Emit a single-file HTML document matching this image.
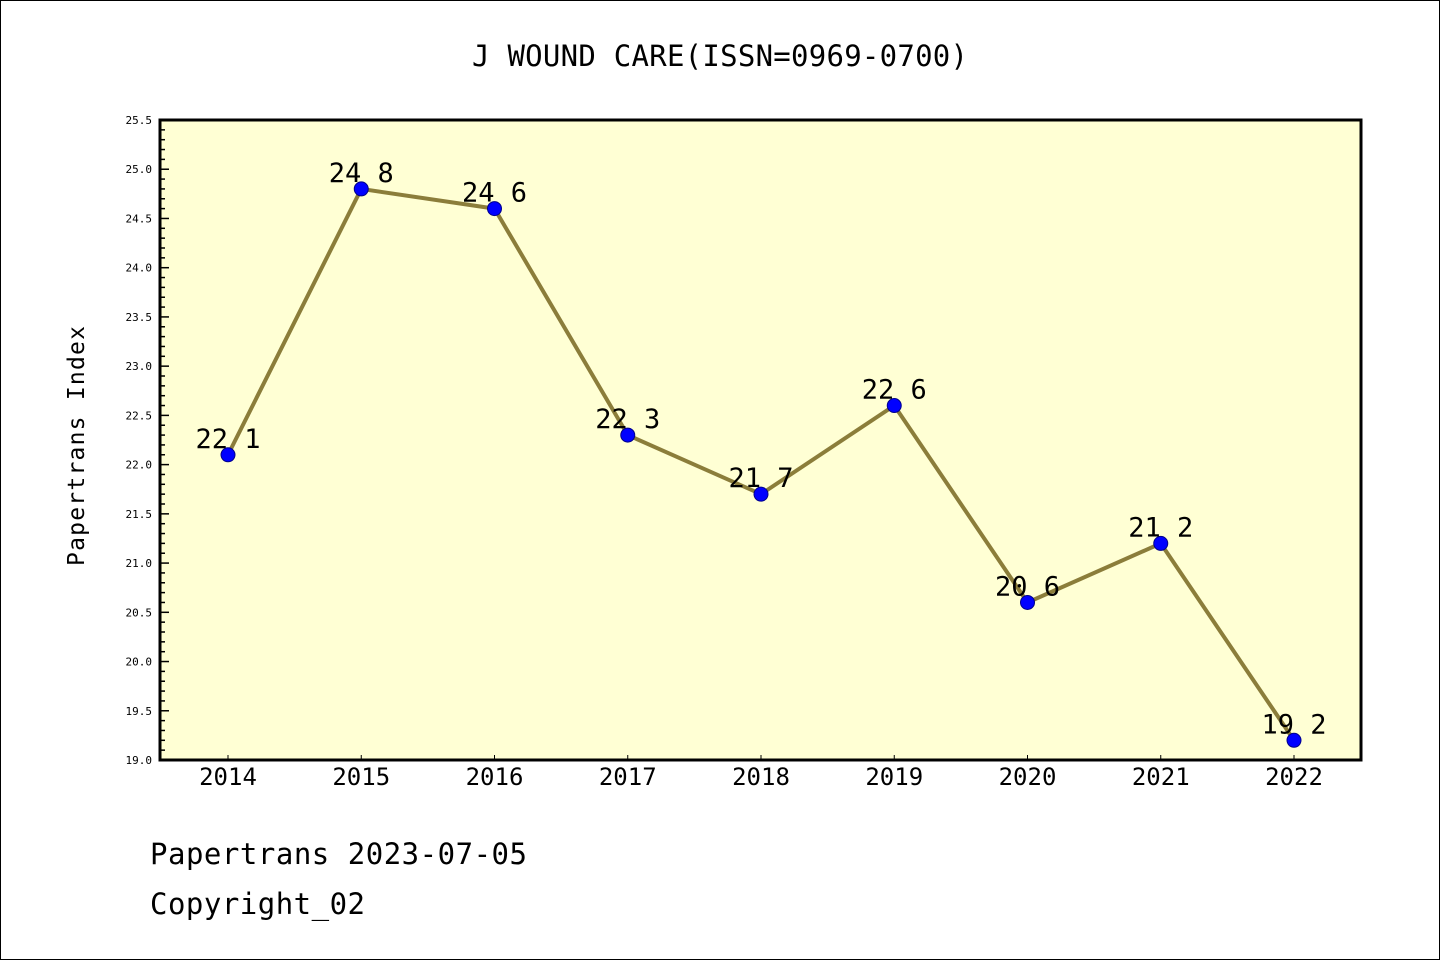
<!DOCTYPE html>
<html><head><meta charset="utf-8"><style>
body{margin:0;background:#fff}
svg{display:block}
text{font-family:"DejaVu Sans Mono","Liberation Mono",monospace}
</style></head><body>
<svg id="chart" width="1440" height="960" xmlns="http://www.w3.org/2000/svg">
<rect x="0.5" y="0.5" width="1439" height="959" fill="#fff" stroke="#000"/>
<text x="720" y="66" text-anchor="middle" font-size="29" textLength="496">J WOUND CARE(ISSN=0969-0700)</text>
<rect x="160" y="120" width="1201" height="640" fill="#ffffd4"/>
<g id="yaxis"></g>
<g id="xaxis"></g>
<g id="series"></g>
<rect x="160" y="120" width="1201" height="640" fill="none" stroke="#000" stroke-width="3"/>
<text transform="translate(84,446) rotate(-90)" text-anchor="middle" font-size="23" textLength="240">Papertrans Index</text>
<text x="150" y="864" font-size="29" textLength="377">Papertrans 2023-07-05</text>
<text x="150" y="914" font-size="29" textLength="215">Copyright_02</text>
</svg>
<script>
const years=[2014,2015,2016,2017,2018,2019,2020,2021,2022];
const values=[22.1,24.8,24.6,22.3,21.7,22.6,20.6,21.2,19.2];
const yTicks=["19.0","19.5","20.0","20.5","21.0","21.5","22.0","22.5","23.0","23.5","24.0","24.5","25.0","25.5"];
const NS="http://www.w3.org/2000/svg";
const yMin=19.0,yMax=25.5,plotTop=120,plotBot=760,plotLeft=160;
const ys=v=>plotBot-(v-yMin)/(yMax-yMin)*(plotBot-plotTop);
const xs=i=>228+i*133.25;
function mk(tag,attrs,parent,txt){const e=document.createElementNS(NS,tag);for(const k in attrs)e.setAttribute(k,attrs[k]);if(txt!==undefined)e.textContent=txt;parent.appendChild(e);return e;}
const ya=document.getElementById('yaxis'),xa=document.getElementById('xaxis'),se=document.getElementById('series');
for(let k=0;k<=65;k++){const v=yMin+k*0.1;const y=ys(v);const major=k%5===0;
const t=mk('line',{x1:plotLeft,x2:plotLeft+(major?9:5),y1:y,y2:y,stroke:'#000','stroke-width':1.5},ya);

}
yTicks.forEach(s=>{const t=mk('text',{x:152,y:ys(parseFloat(s))+4,'text-anchor':'end','font-size':11,'font-family':'DejaVu Sans, sans-serif'},ya,s);

});
years.forEach((yr,i)=>{const x=xs(i);
const t=mk('line',{x1:x,x2:x,y1:plotBot,y2:plotBot-5,stroke:'#000','stroke-width':1},xa);


const l=mk('text',{x:x,y:785,'text-anchor':'middle','font-size':24,'font-family':'DejaVu Sans, sans-serif'},xa,yr);

});
const pts=values.map((v,i)=>xs(i)+','+ys(v)).join(' ');
const pl=mk('polyline',{points:pts,fill:'none',stroke:'#8b7d3a','stroke-width':4},se);


values.forEach((v,i)=>{const c=mk('circle',{cx:xs(i),cy:ys(v),r:7,fill:'#0000ff',stroke:'#00008b','stroke-width':1},se);


const t=mk('text',{x:xs(i),y:ys(v)-7,'text-anchor':'middle','font-size':27},se,v.toFixed(1).replace('.',' '));

});
</script>
</body></html>
